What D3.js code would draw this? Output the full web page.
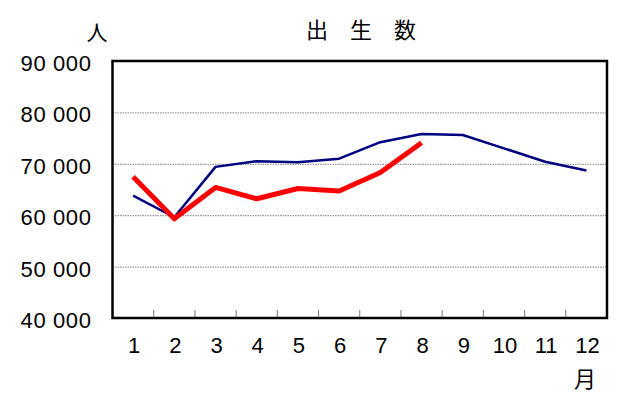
<!DOCTYPE html>
<html>
<head>
<meta charset="utf-8">
<script src="https://cdn.jsdelivr.net/npm/d3@7"></script>
<style>
  body { margin: 0; background: #fff; }
  text { fill: #000; }
</style>
</head>
<body>
<script>
// monthly births, two years
var months = ["1","2","3","4","5","6","7","8","9","10","11","12"];
var prevYear = [63800, 59600, 69400, 70500, 70300, 71000, 74200, 75800, 75600, 73000, 70400, 68700];
var thisYear = [67500, 59300, 65400, 63200, 65200, 64700, 68300, 74100];
var yTicks = [40000, 50000, 60000, 70000, 80000, 90000];

var W = 640, H = 398;
var margin = {top: 61, right: 33, bottom: 80, left: 112.5};
var w = W - margin.left - margin.right,
    h = H - margin.top - margin.bottom;

var fmt = function (d) { return d3.format(",")(d).replace(/,/g, " "); };

var svg = d3.select("body").append("svg")
    .attr("width", W)
    .attr("height", H);

var g = svg.append("g")
    .attr("transform", "translate(" + margin.left + "," + margin.top + ")");

var x = d3.scaleBand().domain(months).range([0, w]).padding(0);
var y = d3.scaleLinear().domain([40000, 90000]).range([h, 0]);

// dotted grid lines
g.selectAll(".grid")
    .data(yTicks.filter(function (d) { return d > 40000 && d < 90000; }))
    .enter().append("line")
    .attr("x1", 0).attr("x2", w)
    .attr("y1", function (d) { return y(d) + 0.5; })
    .attr("y2", function (d) { return y(d) + 0.5; })
    .attr("stroke", "#808080")
    .attr("stroke-width", 1)
    .attr("stroke-dasharray", "1.5,1");

// y labels
g.selectAll(".ylab")
    .data(yTicks)
    .enter().append("text")
    .attr("x", -21)
    .attr("y", function (d) { return y(d) + 2; })
    .attr("dy", "0.36em")
    .attr("text-anchor", "end")
    .style("font-family", "'Liberation Sans', Arial, sans-serif")
    .style("font-size", "22px")
    .style("letter-spacing", "0.6px")
    .text(fmt);

// x ticks between months, inside the box
g.selectAll(".xtick")
    .data(months.slice(1))
    .enter().append("line")
    .attr("x1", function (d) { return x(d); })
    .attr("x2", function (d) { return x(d); })
    .attr("y1", h)
    .attr("y2", h - 8)
    .attr("stroke", "#777")
    .attr("stroke-width", 1);

// x labels
g.selectAll(".xlab")
    .data(months)
    .enter().append("text")
    .attr("x", function (d) { return x(d) + x.bandwidth() / 2 + 1; })
    .attr("y", h + 35)
    .attr("text-anchor", "middle")
    .style("font-family", "'Liberation Sans', Arial, sans-serif")
    .style("font-size", "22px")
    .text(function (d) { return d; });

var line = d3.line()
    .x(function (d, i) { return x(months[i]) + x.bandwidth() / 2; })
    .y(function (d) { return y(d); });

g.append("path")
    .datum(prevYear)
    .attr("d", line)
    .attr("fill", "none")
    .attr("stroke", "#000080")
    .attr("stroke-width", 2.5)
    .attr("stroke-linejoin", "round");

g.append("path")
    .datum(thisYear)
    .attr("d", line)
    .attr("fill", "none")
    .attr("stroke", "#ff0000")
    .attr("stroke-width", 5)
    .attr("stroke-linejoin", "round");

// plot frame
g.append("rect")
    .attr("x", 0).attr("y", 0)
    .attr("width", w).attr("height", h)
    .attr("fill", "none")
    .attr("stroke", "#000")
    .attr("stroke-width", 2.5);

// title and unit labels
svg.append("text")
    .attr("x", 361)
    .attr("y", 38)
    .attr("text-anchor", "middle")
    .style("font-family", "'Noto Sans CJK JP', sans-serif")
    .style("font-size", "22px")
    .text("出\u3000生\u3000数");

svg.append("text")
    .attr("x", 97)
    .attr("y", 40)
    .attr("text-anchor", "middle")
    .style("font-family", "'Noto Sans CJK JP', sans-serif")
    .style("font-size", "21px")
    .text("人");

svg.append("text")
    .attr("x", 585)
    .attr("y", 387)
    .attr("text-anchor", "middle")
    .style("font-family", "'Noto Sans CJK JP', sans-serif")
    .style("font-size", "22px")
    .text("月");
</script>
</body>
</html>
